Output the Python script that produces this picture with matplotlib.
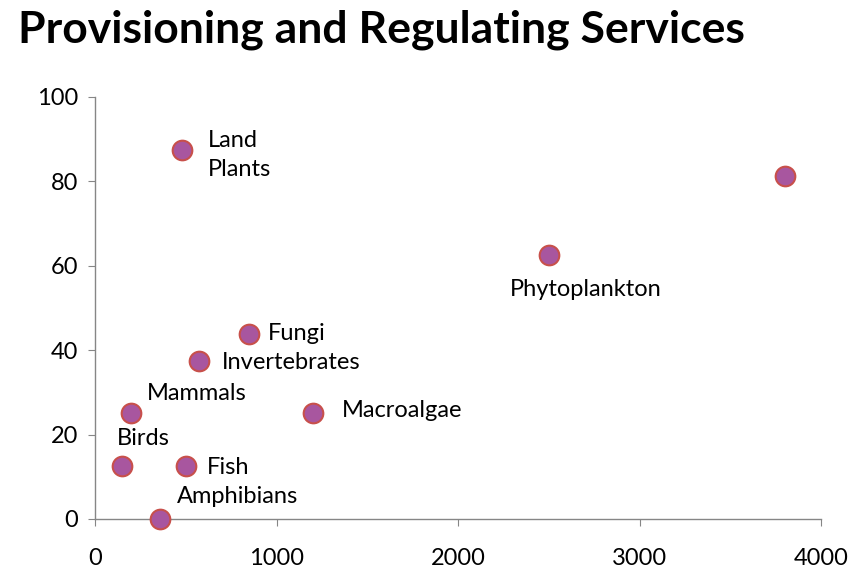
import matplotlib
matplotlib.use('Agg')
import matplotlib.pyplot as plt

# data
names = ['Land\nPlants', '', 'Phytoplankton', 'Fungi', 'Invertebrates',
         'Mammals', 'Macroalgae', 'Birds', 'Fish', 'Amphibians']
xs = [480, 3800, 2500, 850, 575, 200, 1200, 150, 500, 360]
ys = [87.5, 81.25, 62.5, 43.75, 37.5, 25, 25, 12.5, 12.5, 0]

# label placement (pixel offsets from the point, horizontal alignment)
offsets = [(26, -5, 'left'), (0, 0, 'left'), (37, -34, 'center'),
           (19, 1, 'left'), (22, -2, 'left'), (16, 20, 'left'),
           (29, 3, 'left'), (-5, 28, 'left'), (21, -1, 'left'),
           (17, 22, 'left')]

plt.rcParams['font.family'] = ['Lato', 'DejaVu Sans']

fig = plt.figure(figsize=(8.53, 5.76), dpi=100)
ax = fig.add_axes([0.1114, 0.099, 0.8511, 0.7326])

ax.scatter(xs, ys, s=200, facecolor='#A8569F', edgecolor='#C8504B',
           linewidth=1.5, zorder=3, clip_on=False)

for name, x, y, (dx, dy, ha) in zip(names, xs, ys, offsets):
    if not name:
        continue
    ax.annotate(name, (x, y), xytext=(dx, dy), textcoords='offset pixels',
                ha=ha, va='center', fontsize=17, linespacing=1.45)

ax.set_xlim(0, 4000)
ax.set_ylim(0, 100)
ax.set_xticks([0, 1000, 2000, 3000, 4000])
ax.set_yticks([0, 20, 40, 60, 80, 100])

for side in ['top', 'right']:
    ax.spines[side].set_visible(False)
for side in ['left', 'bottom']:
    ax.spines[side].set_color('#868686')
    ax.spines[side].set_linewidth(1)

ax.tick_params(axis='both', direction='out', length=5, color='#868686',
               labelsize=17)
ax.tick_params(axis='x', pad=16)
ax.tick_params(axis='y', pad=7)

fig.text(0.021, 0.927, 'Provisioning and Regulating Services',
         fontsize=32, fontweight='bold', ha='left', va='baseline')

fig.savefig('out.png', dpi=100)
